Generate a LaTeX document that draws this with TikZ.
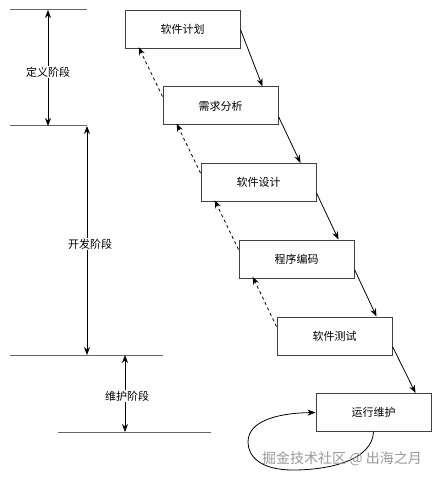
\documentclass[tikz,border=0pt]{standalone}
\usepackage{fontspec}
\setmainfont{Noto Sans CJK SC}
\usetikzlibrary{positioning}
\usetikzlibrary{arrows.meta}

\begin{document}
\begin{tikzpicture}[x=1pt,y=-1pt,font=\fontsize{11}{13}\selectfont,
  stage/.style={draw=black!75,line width=1pt,minimum width=115pt,minimum height=38pt,inner sep=0pt},
  fwd/.style={-{Stealth[length=8pt,width=6pt]},line width=0.8pt},
  back/.style={-{Stealth[length=8pt,width=6pt]},line width=0.8pt,dash pattern=on 3pt off 3pt,shorten >=-2pt},
  rule/.style={draw=black!60,line width=1pt},
  span/.style={{Stealth[length=8pt,width=6pt]}-{Stealth[length=8pt,width=6pt]},line width=0.8pt},
  tag/.style={fill=white,inner sep=1pt}]
\useasboundingbox (0,0) rectangle (441,481);
% waterfall stages
\node[stage] (plan) at (182.5,29.5) {软件计划};
\node[stage] (req) at (220.5,106) {需求分析};
\node[stage] (design) at (258.5,182.5) {软件设计};
\node[stage] (code) at (296.5,259) {程序编码};
\node[stage] (test) at (334.5,336) {软件测试};
\node[stage] (maint) at (373.5,412.5) {运行维护};
% forward arrows
\draw[fwd] (plan.east) -- ([xshift=-16pt]req.north east);
\draw[fwd] ([yshift=9pt]req.south east) -- ([xshift=-16pt]design.north east);
\draw[fwd] ([yshift=9pt]design.south east) -- ([xshift=-16pt]code.north east);
\draw[fwd] ([yshift=9pt]code.south east) -- ([xshift=-16pt]test.north east);
\draw[fwd] ([yshift=9pt]test.south east) -- ([xshift=-16pt]maint.north east);
% feedback arrows
\draw[back] ([yshift=-10pt]req.north west) -- ([xshift=15pt]plan.south west);
\draw[back] ([yshift=-10pt]design.north west) -- ([xshift=15pt]req.south west);
\draw[back] ([yshift=-10pt]code.north west) -- ([xshift=15pt]design.south west);
\draw[back] ([yshift=-10pt]test.north west) -- ([xshift=15pt]code.south west);
% maintenance loop
\draw[fwd] (maint.south) .. controls (372,460) and (330,470) .. (293,470)
  .. controls (260,470) and (248,456) .. (248,442)
  .. controls (248,420) and (280,413) .. (maint.west);
% phases
\coordinate (d1) at (48,10); \coordinate (d2) at (48,126);
\coordinate (k1) at (87,126); \coordinate (k2) at (87,355);
\coordinate (w1) at (125,355); \coordinate (w2) at (125,432);
\draw[rule] (10,10) -- (87,10);
\draw[rule] (10,126) -- (87,126);
\draw[rule] (10,355) -- (163,355);
\draw[rule] (58,432) -- (211,432);
\draw[span] (d1) -- (d2);
\draw[span] (k1) -- (k2);
\draw[span] (w1) -- (w2);
\node[tag] (def) at (48,72) {定义阶段};
\node[tag] (dev) at (90,244) {开发阶段};
\node[tag] (mnt) at (127,396) {维护阶段};
\node[text=black!40,font=\fontsize{14}{16}\selectfont] (mark) at (342,459) {掘金技术社区 @ 出海之月};
\end{tikzpicture}
\end{document}
